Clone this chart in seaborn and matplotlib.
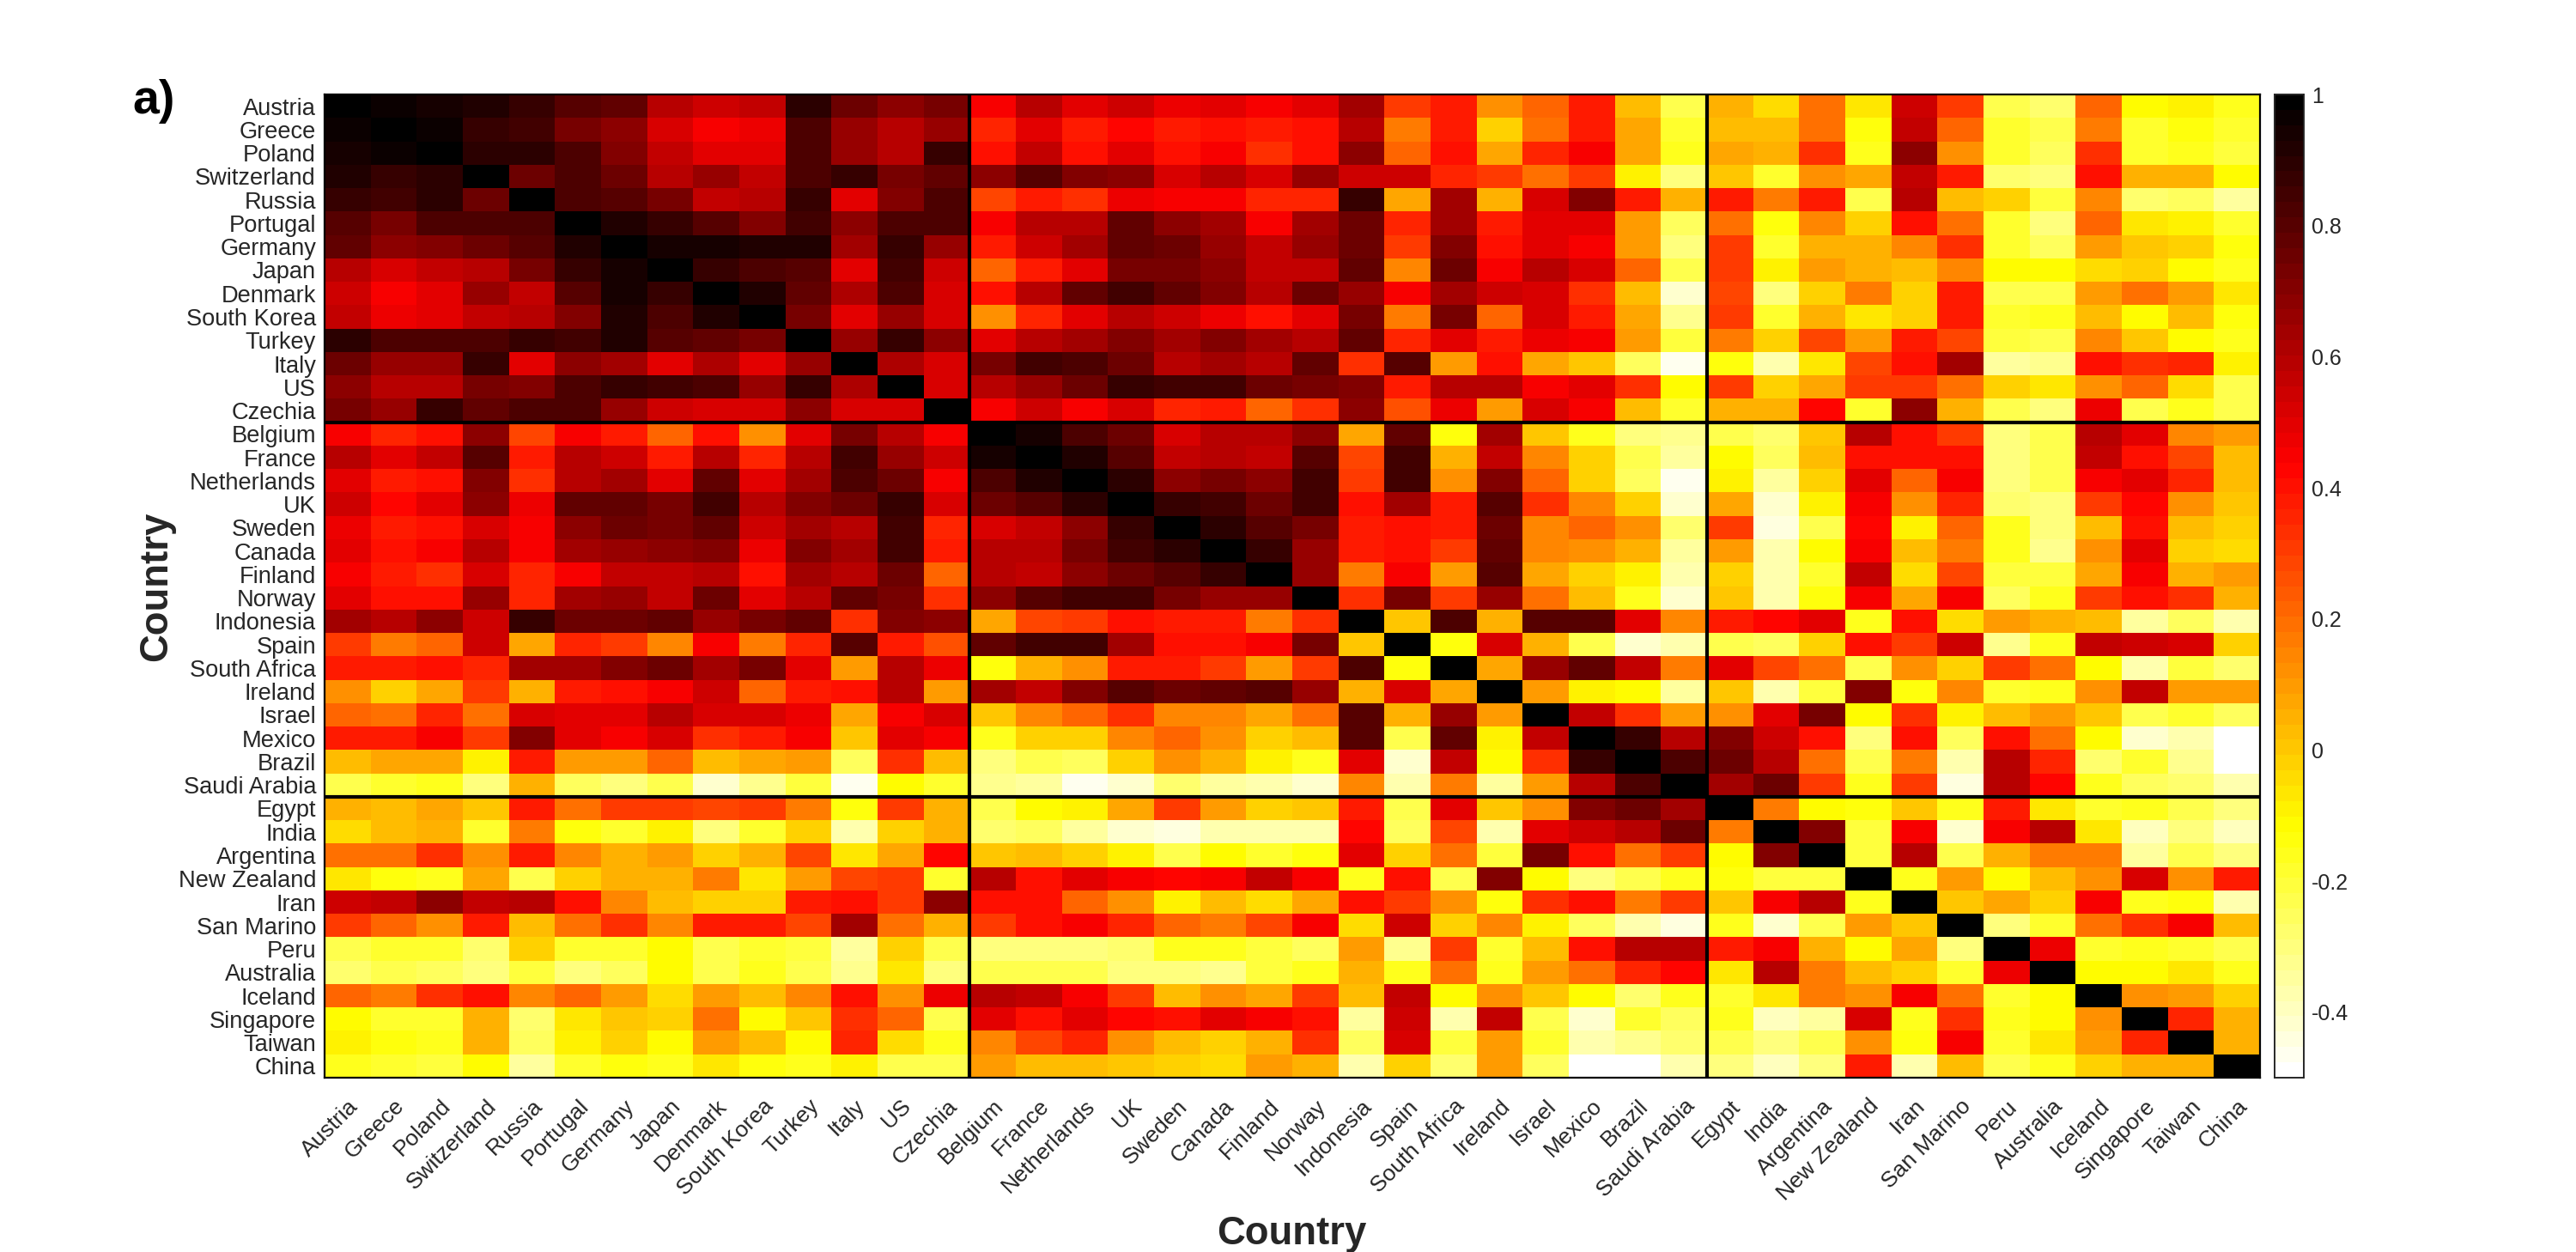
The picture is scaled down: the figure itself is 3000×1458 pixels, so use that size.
import numpy as np
import pandas as pd
import matplotlib
matplotlib.use('Agg')
import matplotlib.pyplot as plt
from matplotlib.colors import LinearSegmentedColormap
import seaborn as sns

countries = ['Austria', 'Greece', 'Poland', 'Switzerland', 'Russia', 'Portugal', 'Germany', 'Japan',
             'Denmark', 'South Korea', 'Turkey', 'Italy', 'US', 'Czechia', 'Belgium', 'France',
             'Netherlands', 'UK', 'Sweden', 'Canada', 'Finland', 'Norway', 'Indonesia', 'Spain',
             'South Africa', 'Ireland', 'Israel', 'Mexico', 'Brazil', 'Saudi Arabia', 'Egypt', 'India',
             'Argentina', 'New Zealand', 'Iran', 'San Marino', 'Peru', 'Australia', 'Iceland',
             'Singapore', 'Taiwan', 'China']

# upper triangle of the correlation matrix, each row starts at the diagonal
austria = [1, .97, .95, .92, .87, .81, .77, .60, .54, .56, .90, .75, .68, .74,
           .44, .58, .50, .54, .47, .49, .44, .50, .64, .32, .39, .12, .22, .39, .02, -.22,
           .05, -.05, .19, -.07, .54, .31, -.24, -.27, .22, -.12, -.09, -.16]
greece = [1, .96, .87, .85, .73, .68, .52, .44, .48, .83, .66, .60, .67,
          .36, .49, .38, .42, .39, .41, .37, .41, .60, .17, .37, -.01, .18, .39, .07, -.18,
          .03, .02, .19, -.14, .56, .21, -.18, -.23, .16, -.18, -.14, -.19]
poland = [1, .89, .90, .82, .71, .57, .49, .49, .82, .65, .60, .87,
          .41, .56, .41, .49, .40, .44, .34, .40, .69, .22, .41, .07, .36, .44, .07, -.16,
          .07, .04, .34, -.15, .68, .12, -.19, -.25, .34, -.19, -.16, -.20]
switzerland = [1, .76, .83, .76, .60, .65, .56, .83, .87, .72, .78,
               .68, .79, .70, .68, .53, .58, .51, .65, .55, .55, .36, .32, .19, .31, -.09, -.31,
               .01, -.18, .12, .07, .56, .37, -.28, -.30, .41, .04, .05, -.12]
russia = [1, .83, .79, .72, .56, .60, .87, .50, .70, .82,
          .28, .39, .34, .47, .44, .45, .35, .36, .86, .07, .63, .06, .53, .70, .39, .06,
          .37, .17, .37, -.22, .59, .02, -.03, -.20, .14, -.28, -.25, -.34]
portugal = [1, .92, .87, .80, .70, .85, .68, .82, .82,
            .44, .60, .60, .77, .68, .63, .46, .63, .75, .36, .63, .39, .49, .49, .09, -.25,
            .19, -.14, .15, -.01, .40, .19, -.19, -.31, .22, -.06, -.09, -.18]
germany = [1, .93, .93, .91, .91, .63, .88, .67,
           .38, .54, .63, .77, .75, .66, .56, .66, .75, .31, .70, .40, .50, .44, .09, -.31,
           .30, -.19, .04, .05, .14, .33, -.18, -.25, .09, 0, -.03, -.13]
japan = [1, .87, .82, .80, .49, .84, .55,
         .22, .39, .50, .74, .74, .68, .56, .56, .77, .14, .75, .44, .58, .51, .22, -.24,
         .32, -.09, .09, .05, .02, .14, -.12, -.12, -.04, -.02, -.12, -.15]
denmark = [1, .91, .77, .62, .82, .51,
           .41, .58, .77, .84, .77, .70, .60, .75, .65, .44, .63, .55, .51, .34, .03, -.41,
           .28, -.29, -.03, .16, -.01, .39, -.22, -.22, .09, .19, .09, -.07]
south_korea = [1, .72, .49, .67, .51,
               .12, .36, .50, .60, .54, .47, .41, .49, .72, .17, .72, .22, .53, .39, .07, -.33,
               .30, -.18, .05, -.07, -.01, .39, -.19, -.16, .02, -.12, .02, -.14]
turkey = [1, .67, .87, .68,
          .49, .60, .63, .70, .63, .70, .63, .60, .77, .36, .50, .38, .47, .44, .10, -.20,
          .16, -.01, .28, .10, .39, .28, -.20, -.23, .14, 0, -.12, -.15]
italy = [1, .62, .53,
         .74, .84, .82, .75, .60, .63, .58, .77, .33, .80, .10, .41, .07, 0, -.25, -.47,
         -.14, -.38, -.06, .28, .40, .63, -.35, -.33, .40, .34, .36, -.09]
us = [1, .53,
      .58, .66, .75, .87, .84, .84, .75, .74, .70, .38, .60, .60, .44, .49, .34, -.12,
      .30, -.03, .07, .32, .30, .19, -.01, -.06, .12, .21, -.05, -.24]
czechia = [1,
           .44, .54, .46, .52, .36, .39, .22, .34, .68, .27, .47, .09, .52, .44, .03, -.19,
           .05, .05, .43, -.18, .68, .05, -.22, -.30, .47, -.22, -.15, -.24]
belgium = [1, .94, .83, .75, .53, .60, .60, .68, .07, .77, -.14, .63, 0, -.16, -.29, -.33,
           -.22, -.27, 0, .58, .40, .31, -.29, -.22, .59, .49, .15, .09]
france = [1, .91, .80, .57, .60, .56, .80, .28, .84, .05, .56, .14, -.03, -.24, -.35,
          -.12, -.25, .03, .41, .41, .40, -.31, -.24, .56, .41, .28, .03]
netherlands = [1, .89, .69, .73, .68, .85, .30, .85, .12, .70, .21, -.03, -.25, -.47,
               -.09, -.35, -.03, .49, .21, .45, -.31, -.24, .45, .49, .36, .03]
uk = [1, .88, .85, .75, .85, .41, .63, .37, .80, .34, .15, -.03, -.42,
      .07, -.41, -.09, .44, .12, .36, -.27, -.29, .32, .43, .12, 0]
sweden = [1, .90, .80, .74, .38, .40, .39, .75, .14, .22, .12, -.27,
          .31, -.43, -.22, .43, -.09, .21, -.15, -.31, .03, .41, .03, -.01]
canada = [1, .87, .65, .37, .40, .32, .77, .14, .12, .05, -.34,
          .10, -.37, -.12, .44, .03, .17, -.17, -.32, .12, .49, -.01, -.04]
finland = [1, .65, .17, .44, .10, .80, .07, -.01, -.09, -.38,
           -.02, -.36, -.19, .57, -.05, .28, -.20, -.20, .07, .44, .05, .10]
norway = [1, .34, .72, .30, .65, .19, .02, -.16, -.41,
          0, -.37, -.14, .46, .07, .46, -.26, -.17, .32, .40, .33, .05]
indonesia = [1, 0, .82, .04, .80, .80, .49, .15,
             .38, .43, .50, -.17, .41, -.05, .09, .05, .02, -.35, -.26, -.37]
spain = [1, -.14, .51, .05, -.23, -.41, -.36,
         -.23, -.25, -.01, .41, .32, .54, -.33, -.15, .56, .54, .51, -.01]
south_africa = [1, .07, .65, .77, .56, .17,
                .49, .28, .19, -.24, .12, -.01, .32, .19, -.12, -.36, -.20, -.27]
ireland = [1, .10, -.09, -.12, -.35,
           0, -.38, -.20, .70, -.14, .14, -.18, -.15, .12, .56, .09, .10]
israel = [1, .56, .34, .10,
          .12, .50, .72, -.12, .34, -.09, .02, .09, 0, -.24, -.19, -.26]
mexico = [1, .86, .60,
          .70, .54, .40, -.29, .40, -.25, .41, .19, -.12, -.41, -.36, -.50]
brazil = [1, .82,
          .75, .60, .19, -.23, .16, -.36, .60, .36, -.27, -.19, -.33, -.50]
saudi_arabia = [1,
                .63, .75, .32, -.17, .30, -.44, .60, .43, -.15, -.25, -.28, -.38]
egypt = [1, .16, -.12, -.14, 0, -.17, .38, -.06, -.19, -.16, -.23, -.30]
india = [1, .70, -.20, .44, -.41, .46, .60, -.07, -.39, -.30, -.39]
argentina = [1, -.20, .58, -.22, .05, .16, .16, -.34, -.24, -.30]
new_zealand = [1, -.16, .10, -.12, .03, .12, .51, .12, .37]
iran = [1, 0, .07, -.01, .46, -.17, -.13, -.37]
san_marino = [1, -.30, -.18, .19, .34, .46, .03]
peru = [1, .48, -.18, -.15, -.18, -.24]
australia = [1, -.12, -.12, -.07, -.15]
iceland = [1, .12, .09, -.01]
singapore = [1, .36, .05]
taiwan = [1, .05]
china = [1]

rows = [austria, greece, poland, switzerland, russia, portugal, germany, japan, denmark, south_korea,
        turkey, italy, us, czechia, belgium, france, netherlands, uk, sweden, canada, finland, norway,
        indonesia, spain, south_africa, ireland, israel, mexico, brazil, saudi_arabia, egypt, india,
        argentina, new_zealand, iran, san_marino, peru, australia, iceland, singapore, taiwan, china]

# cluster borders, counted in countries
cluster_edges = [14, 30]
cbar_ticks = [-0.4, -0.2, 0, 0.2, 0.4, 0.6, 0.8, 1]
cbar_labels = ['-0.4', '-0.2', '0', '0.2', '0.4', '0.6', '0.8', '1']

corr = np.zeros((len(countries), len(countries)))
for i, row in enumerate(rows):
    corr[i, i:] = row
    corr[i:, i] = row
df = pd.DataFrame(corr, index=countries, columns=countries)

sns.set_theme(style='white')
plt.rcParams['font.family'] = ['Liberation Sans', 'DejaVu Sans']
text_color = '#262626'

# same as the inverted matlab hot colormap
hot64 = LinearSegmentedColormap.from_list(
    'hot64', [(0, '#ffffff'), (0.25, '#ffff00'), (0.625, '#ff0000'), (1, '#000000')], N=64)

W, H = 3000, 1458
left, right, top, bottom = 378, 2632, 110, 1255
fig = plt.figure(figsize=(15, 7.29), dpi=200)
ax = fig.add_axes([left / W, 1 - bottom / H, (right - left) / W, (bottom - top) / H])
cax = fig.add_axes([2649 / W, 1 - bottom / H, 34 / W, (bottom - top) / H])

sns.heatmap(df, ax=ax, cbar_ax=cax, cmap=hot64, vmin=-0.5, vmax=1,
            xticklabels=True, yticklabels=True, cbar_kws={'ticks': cbar_ticks})

for edge in cluster_edges:
    ax.axhline(edge, color='black', lw=1.5)
    ax.axvline(edge, color='black', lw=1.5)
for spine in ax.spines.values():
    spine.set_visible(True)
    spine.set_color('black')
    spine.set_linewidth(0.8)

ax.tick_params(axis='y', length=0, labelsize=9.8, labelcolor=text_color, pad=3.6, rotation=0)
ax.tick_params(axis='x', length=0, labelsize=9.5, labelcolor=text_color, pad=7.5)
for label in ax.get_xticklabels():
    label.set_rotation(45)
    label.set_ha('right')
    label.set_va('top')
    label.set_rotation_mode('anchor')
for label in ax.get_yticklabels():
    label.set_va('center_baseline')

ax.set_xlabel('Country', fontsize=16.4, fontweight='bold', color=text_color, labelpad=0)
ax.set_ylabel('Country', fontsize=16.4, fontweight='bold', color=text_color, labelpad=0)
ax.xaxis.set_label_coords((1504 - left) / (right - left), (bottom - 1437) / (bottom - top), transform=ax.transAxes)
ax.xaxis.label.set_va('center')
ax.yaxis.set_label_coords((182 - left) / (right - left), 1 - (683 - top) / (bottom - top), transform=ax.transAxes)
ax.yaxis.label.set_va('center')

cax.set_yticks(cbar_ticks)
cax.set_yticklabels(cbar_labels)
cax.tick_params(axis='y', direction='in', length=4.6, width=0.4, color=text_color,
                labelsize=9, labelcolor=text_color, pad=3.3, right=True, left=False)
for spine in cax.spines.values():
    spine.set_visible(True)
    spine.set_color(text_color)
    spine.set_linewidth(0.6)

fig.text(154 / W, 1 - 132 / H, 'a)', fontsize=20, fontweight='bold', color='black', ha='left', va='baseline')

fig.savefig('out.png', dpi=200)
plt.close(fig)
